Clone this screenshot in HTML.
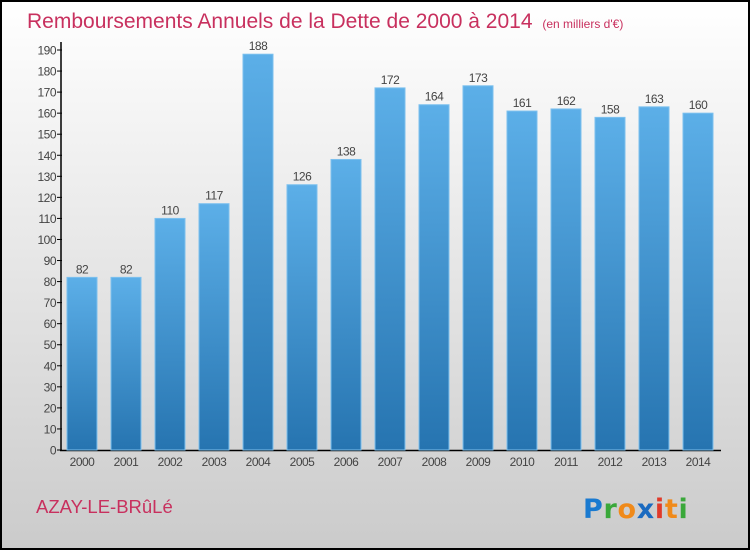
<!DOCTYPE html>
<html><head><meta charset="utf-8"><style>
body{margin:0;width:750px;height:550px;overflow:hidden;font-family:"Liberation Sans",sans-serif}
</style></head><body>
<svg width="750" height="550" xmlns="http://www.w3.org/2000/svg">
<defs>
<linearGradient id="bg" x1="0" y1="0" x2="0" y2="1"><stop offset="0" stop-color="#ffffff"/><stop offset="1" stop-color="#cbcbcb"/></linearGradient>
<linearGradient id="bar" x1="0" y1="0" x2="0" y2="1"><stop offset="0" stop-color="#5cafe8"/><stop offset="1" stop-color="#2674b0"/></linearGradient>
</defs>
<rect x="1" y="1" width="748" height="548" fill="url(#bg)" stroke="#000" stroke-width="2"/>
<text x="27" y="28" font-size="21" fill="#c8305e">Remboursements Annuels de la Dette de 2000 à 2014 <tspan font-size="12" dx="4">(en milliers d'€)</tspan></text>
<g id="ax"></g>
<g id="bars"></g>
<text x="36" y="513" font-size="18.5" fill="#c8305e">AZAY-LE-BRûLé</text>
<g font-size="27" font-weight="bold" font-family="'DejaVu Sans',sans-serif">
<text x="583" y="518" letter-spacing="0.7"><tspan fill="#1a7ad0">P</tspan><tspan fill="#3aa83a">r</tspan><tspan fill="#f08a1a">o</tspan><tspan fill="#1a6ac0">x</tspan><tspan fill="#e03a2a">i</tspan><tspan fill="#f08a1a">t</tspan><tspan fill="#3aa83a">i</tspan></text>
</g>
</svg>
<script>
const categories=["2000","2001","2002","2003","2004","2005","2006","2007","2008","2009","2010","2011","2012","2013","2014"];
const values=[82,82,110,117,188,126,138,172,164,173,161,162,158,163,160];
const yTicks=[0,10,20,30,40,50,60,70,80,90,100,110,120,130,140,150,160,170,180,190];
const NS="http://www.w3.org/2000/svg";
const x0=60,band=44,bw=30;
function y(v){return 450-v*400/190;}
function xc(i){return x0+band*i+band/2;}
function mk(t,a,p){const e=document.createElementNS(NS,t);for(const k in a)e.setAttribute(k,a[k]);p.appendChild(e);return e;}
const ax=document.getElementById('ax'),bars=document.getElementById('bars');
const yl=mk('line',{x1:61,y1:42,x2:61,y2:451,stroke:'#000','stroke-width':1.5},ax);


const xl=mk('line',{x1:60,y1:450.5,x2:721,y2:450.5,stroke:'#000','stroke-width':1.5},ax);


yTicks.forEach(v=>{
  mk('line',{x1:57,x2:62,y1:y(v),y2:y(v),stroke:'#000'},ax);
  const t=mk('text',{x:56,y:y(v)+4.5,'text-anchor':'end','font-size':12,fill:'#444','letter-spacing':'-0.5'},ax);
  t.textContent=v;
  
  
});
categories.forEach((c,i)=>{
  const v=values[i];
  const r=mk('rect',{x:xc(i)-bw/2,y:y(v),width:bw,height:450-y(v),fill:'url(#bar)',stroke:'#7cc0ee','stroke-width':1},bars);
  
  
  const l=mk('text',{x:xc(i),y:y(v)-4,'text-anchor':'middle','font-size':12,fill:'#444','letter-spacing':'-0.5'},bars);
  l.textContent=v;
  
  
  const xt=mk('text',{x:xc(i),y:466,'text-anchor':'middle','font-size':12,fill:'#444','letter-spacing':'-0.5'},ax);
  xt.textContent=c;
  
  
});
</script>
</body></html>
